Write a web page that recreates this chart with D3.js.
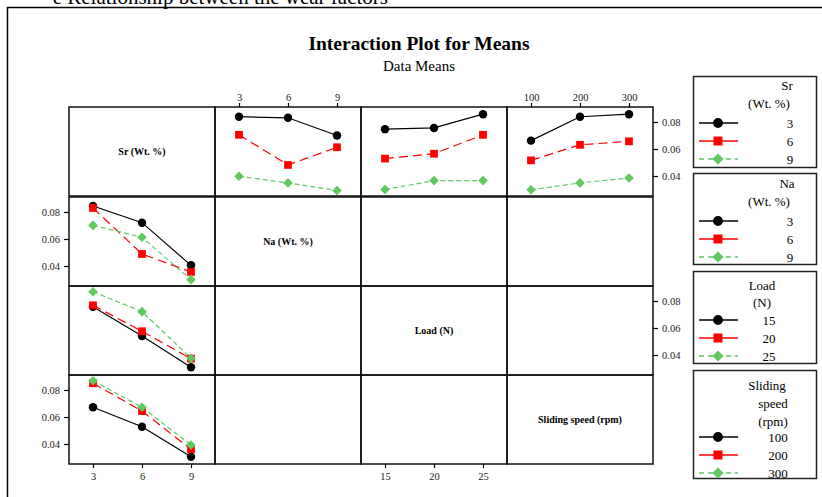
<!DOCTYPE html>
<html>
<head>
<meta charset="utf-8">
<script src="https://cdn.jsdelivr.net/npm/d3@7"></script>
<style>
  html, body { margin: 0; padding: 0; background: #fff; }
  svg { display: block; font-family: "Liberation Serif", "DejaVu Serif", serif; }
</style>
</head>
<body>
<svg id="chart" width="822" height="497"></svg>
<script>
// Factor levels
const srLevels = [3, 6, 9];
const naLevels = [3, 6, 9];
const loadLevels = [15, 20, 25];
const speedLevels = [100, 200, 300];
const yTicks = [0.04, 0.06, 0.08];

// Data means: one row per level of the grouping factor,
// one value per level of the x-axis factor
const srByNa = [[0.0839, 0.0831, 0.0700], [0.0705, 0.0482, 0.0613], [0.0398, 0.0349, 0.0293]];
const srByLoad = [[0.0747, 0.0756, 0.0858], [0.0529, 0.0565, 0.0705], [0.0300, 0.0366, 0.0366]];
const srBySpeed = [[0.0662, 0.0839, 0.0858], [0.0516, 0.0631, 0.0657], [0.0298, 0.0349, 0.0385]];
const naBySr = [[0.0844, 0.0721, 0.0405], [0.0830, 0.0489, 0.0356], [0.0701, 0.0613, 0.0299]];
const loadBySr = [[0.0758, 0.0541, 0.0309], [0.0768, 0.0576, 0.0373], [0.0869, 0.0721, 0.0376]];
const speedBySr = [[0.0672, 0.0528, 0.0306], [0.0850, 0.0644, 0.0361], [0.0869, 0.0672, 0.0393]];

const factorNames = ["Sr (Wt. %)", "Na (Wt. %)", "Load (N)", "Sliding speed (rpm)"];
const factorLevels = [srLevels, naLevels, loadLevels, speedLevels];

const svg = d3.select("#chart");

// Caption line above the figure frame
svg.append("text").attr("x", 388).attr("y", 4).attr("text-anchor", "end")
  .attr("font-size", 21).attr("fill", "#000")
  .text("e Relationship between the wear factors");

// Figure frame
svg.append("rect").attr("x", 7.5).attr("y", 7.5).attr("width", 900).attr("height", 600)
  .attr("fill", "none").attr("stroke", "#000").attr("stroke-width", 1.5);

// Titles
svg.append("text").attr("x", 419).attr("y", 50).attr("text-anchor", "middle")
  .attr("font-size", 19.5).attr("font-weight", "bold").text("Interaction Plot for Means");
svg.append("text").attr("x", 419).attr("y", 71).attr("text-anchor", "middle")
  .attr("font-size", 15).text("Data Means");

// Panel grid geometry
const colX = [69, 215, 361, 507];
const rowY = [107, 197, 286, 375];
const pw = 146, ph = 89, pad = 24;

const xScales = factorLevels.map((lv, j) =>
  d3.scalePoint().domain(lv).range([colX[j] + pad, colX[j] + pw - pad]));
const yScales = rowY.map(y0 => d3.scaleLinear().domain([0.0252, 0.0911]).range([y0 + ph, y0]));

// Series styling by level index of the grouping factor
const colors = ["#000000", "#ff0000", "#5fc85f"];
const dashes = [null, "9,5", "5,3"];
// circle, square, diamond (square turned 45 degrees)
const symbols = [d3.symbolCircle, d3.symbolSquare, d3.symbolSquare];
const symRot = [0, 0, 45];
const symSizes = [56, 60, 46];

function marker(sel, k, x, y, scale) {
  sel.append("path")
    .attr("d", d3.symbol().type(symbols[k]).size(symSizes[k] * scale)())
    .attr("transform", `translate(${x},${y}) rotate(${symRot[k]})`)
    .attr("fill", colors[k]);
}

// Panels: [row (grouping factor), col (x factor), means]
const panels = [
  [0, 1, srByNa], [0, 2, srByLoad], [0, 3, srBySpeed],
  [1, 0, naBySr], [2, 0, loadBySr], [3, 0, speedBySr]
];

const g = svg.append("g");

panels.forEach(([r, c, means]) => {
  const xs = xScales[c], ys = yScales[r], lv = factorLevels[c];
  const line = d3.line().x((d, i) => xs(lv[i])).y(d => ys(d));
  means.forEach((vals, k) => {
    g.append("path").attr("d", line(vals)).attr("fill", "none")
      .attr("stroke", colors[k]).attr("stroke-width", 1.2)
      .attr("stroke-dasharray", dashes[k]);
  });
  means.forEach((vals, k) => {
    vals.forEach((v, i) => marker(g, k, xs(lv[i]), ys(v), 1));
  });
});

// Panel borders
for (let r = 0; r < 4; r++) {
  for (let c = 0; c < 4; c++) {
    svg.append("rect").attr("x", colX[c]).attr("y", rowY[r]).attr("width", pw).attr("height", ph)
      .attr("fill", "none").attr("stroke", "#111").attr("stroke-width", 1.5);
  }
}

// Diagonal factor labels
factorNames.forEach((name, i) => {
  svg.append("text").attr("x", colX[i] + pw / 2).attr("y", rowY[i] + ph / 2 + 3)
    .attr("text-anchor", "middle").attr("font-size", 10).attr("font-weight", "bold")
    .text(name);
});

// Axes
function styleAxis(sel) {
  sel.attr("font-family", "Liberation Serif, serif").attr("font-size", 10.5);
  sel.select(".domain").remove();
  sel.selectAll(".tick line").attr("stroke", "#000").attr("stroke-width", 1.2);
  sel.selectAll(".tick text").attr("fill", "#222");
}
const fmt = d3.format(".2f");
// top axes on columns 2 and 4
[1, 3].forEach(c => {
  svg.append("g").attr("transform", `translate(0,${rowY[0]})`)
    .call(d3.axisTop(xScales[c]).tickSize(4).tickPadding(2)).call(styleAxis);
});
// bottom axes on columns 1 and 3
[0, 2].forEach(c => {
  svg.append("g").attr("transform", `translate(0,${rowY[3] + ph})`)
    .call(d3.axisBottom(xScales[c]).tickSize(4).tickPadding(5)).call(styleAxis);
});
// left axes on rows 2 and 4
[1, 3].forEach(r => {
  svg.append("g").attr("transform", `translate(${colX[0]},0)`)
    .call(d3.axisLeft(yScales[r]).tickValues(yTicks).tickFormat(fmt).tickSize(5).tickPadding(4))
    .call(styleAxis);
});
// right axes on rows 1 and 3
[0, 2].forEach(r => {
  svg.append("g").attr("transform", `translate(${colX[3] + pw},0)`)
    .call(d3.axisRight(yScales[r]).tickValues(yTicks).tickFormat(fmt).tickSize(5).tickPadding(4))
    .call(styleAxis);
});

// Legends
const legends = [
  { top: 76, bottom: 167, title: [["Sr", 787, 90], ["(Wt. %)", 769, 108]], labelX: 790,
    items: [123, 141, 159], labels: srLevels },
  { top: 173, bottom: 264, title: [["Na", 787, 188], ["(Wt. %)", 769, 206]], labelX: 790,
    items: [221, 239, 257], labels: naLevels },
  { top: 271, bottom: 363, title: [["Load", 762, 290], ["(N)", 762, 307]], labelX: 769,
    items: [320, 338, 356], labels: loadLevels },
  { top: 370, bottom: 478, title: [["Sliding", 767, 390], ["speed", 773, 408], ["(rpm)", 773, 426]], labelX: 778,
    items: [437, 455, 473], labels: speedLevels }
];
legends.forEach(L => {
  svg.append("rect").attr("x", 693.5).attr("y", L.top + 0.5).attr("width", 123).attr("height", L.bottom - L.top)
    .attr("fill", "#fff").attr("stroke", "#222").attr("stroke-width", 1.5);
  L.title.forEach(([t, x, y]) => {
    svg.append("text").attr("x", x).attr("y", y).attr("text-anchor", "middle")
      .attr("font-size", 13).text(t);
  });
  L.items.forEach((y, k) => {
    svg.append("line").attr("x1", 699).attr("x2", 738).attr("y1", y).attr("y2", y)
      .attr("stroke", colors[k]).attr("stroke-width", 1.3)
      .attr("stroke-dasharray", k === 2 ? "5,4" : null);
    marker(svg, k, 718, y, 1.35);
    svg.append("text").attr("x", L.labelX).attr("y", y + 5).attr("text-anchor", "middle")
      .attr("font-size", 13).text(L.labels[k]);
  });
});
</script>
</body>
</html>
